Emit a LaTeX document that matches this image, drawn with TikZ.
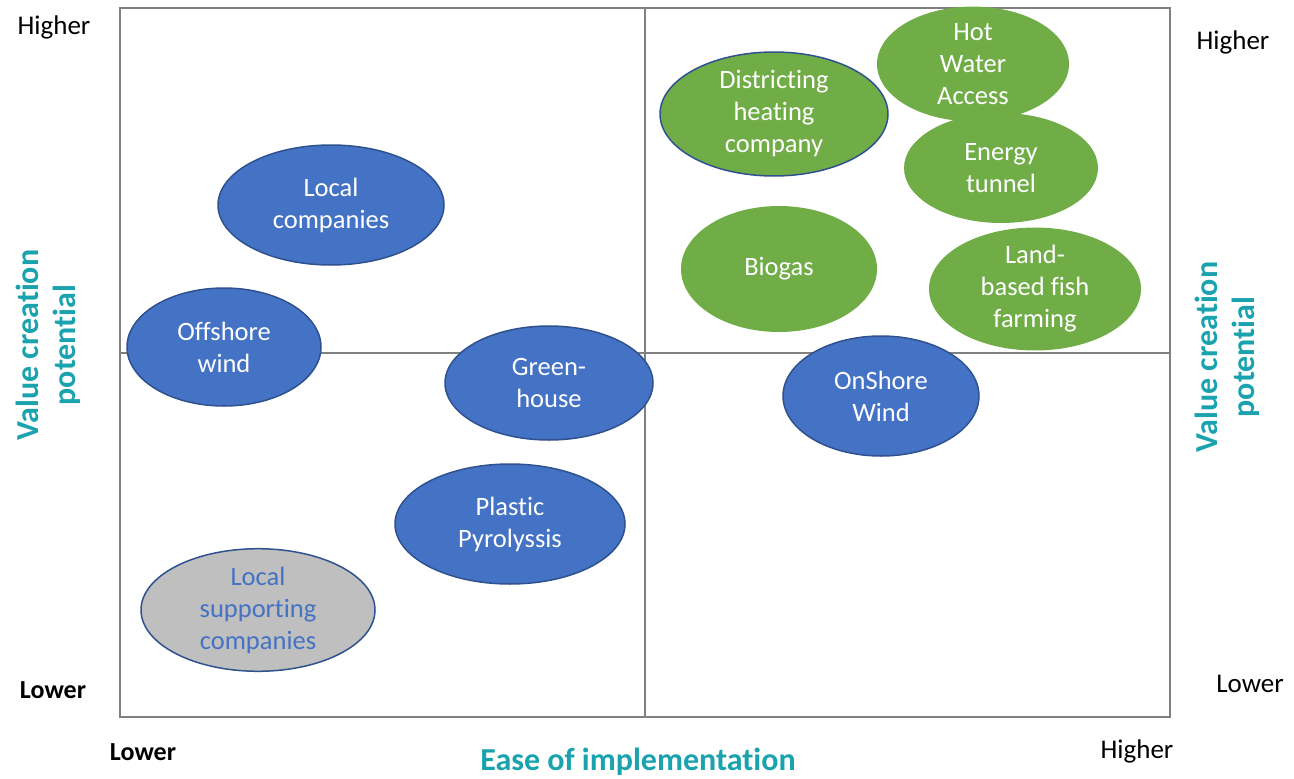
\documentclass[tikz,border=0pt]{standalone}
\usepackage{fontspec}
\setmainfont[Ligatures=NoCommon]{Carlito}
\usetikzlibrary{shapes.geometric}
\definecolor{gridgray}{RGB}{128,128,128}
\definecolor{bluefill}{RGB}{68,114,196}
\definecolor{blueedge}{RGB}{47,82,143}
\definecolor{greenfill}{RGB}{112,173,71}
\definecolor{grayfill}{RGB}{191,191,191}
\definecolor{teal}{RGB}{26,163,174}
\tikzset{
  ell/.style={ellipse, inner sep=0pt, text=white, align=center, font=\fontsize{26.5}{32}\selectfont},
  blueell/.style={ell, fill=bluefill, draw=blueedge, line width=1.5pt},
  greenell/.style={ell, fill=greenfill},
  axislbl/.style={font=\fontsize{27}{30}\selectfont},
  titlelbl/.style={text=teal, font=\bfseries\fontsize{32}{37}\selectfont, align=center}
}
\begin{document}
\begin{tikzpicture}[x=1pt,y=-1pt]
\useasboundingbox (0,0) rectangle (1294,779);
% grid
\draw[gridgray, line width=2pt] (120,8) rectangle (1170,717);
\draw[gridgray, line width=2pt] (645,8) -- (645,717);
\draw[gridgray, line width=2pt] (120,353) -- (1170,353);
% blue ellipses
\node[blueell, minimum width=226pt, minimum height=120pt] (lc) at (331,205) {Local\\companies};
\node[blueell, minimum width=194pt, minimum height=118pt] (ow) at (224,347) {Offshore\\wind};
\node[blueell, minimum width=208pt, minimum height=114pt] (gh) at (549,383) {Green-\\house};
\node[blueell, minimum width=230pt, minimum height=120pt] (pp) at (510,524) {Plastic\\Pyrolyssis};
\node[ell, fill=grayfill, draw=blueedge, line width=1.5pt, text=bluefill, minimum width=234pt, minimum height=102pt] (lsc) at (258,610) {Local\\supporting\\companies};
\node[blueell, minimum width=196pt, minimum height=120pt] (osw) at (881,396) {OnShore\\Wind};
% green ellipses
\node[greenell, minimum width=192pt, minimum height=106pt] (hwa) at (973,64) {Hot\\Water\\Access};
\node[greenell, draw=blueedge, line width=1.5pt, minimum width=228pt, minimum height=124pt] (dhc) at (774,114) {Districting\\heating\\company};
\node[greenell, minimum width=194pt, minimum height=110pt] (et) at (1001,168) {Energy\\tunnel};
\node[greenell, minimum width=196pt, minimum height=126pt] (bg) at (779,269) {Biogas};
\node[greenell, minimum width=212pt, minimum height=110pt] (lbf) at (1035,289) {Land-\\based fish\\farming};
% axis labels
\node[axislbl] (hl) at (54,27) {Higher};
\node[axislbl] (hr) at (1233,42) {Higher};
\node[axislbl, font=\bfseries\fontsize{26}{30}\selectfont] (ll) at (53,690) {Lower};
\node[axislbl] (lr) at (1250,684) {Lower};
\node[axislbl, font=\bfseries\fontsize{26}{30}\selectfont] (lb) at (143,752) {Lower};
\node[axislbl] (hb) at (1137,751) {Higher};
\node[titlelbl] (ease) at (638,762) {Ease of implementation};
\node[titlelbl, rotate=90] (vl) at (48,345) {Value creation\\potential};
\node[titlelbl, rotate=90] (vr) at (1227,357) {Value creation\\potential};
\end{tikzpicture}
\end{document}
